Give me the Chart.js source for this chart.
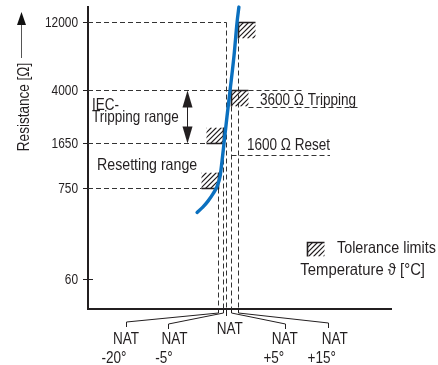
<!DOCTYPE html>
<html>
<head>
<meta charset="utf-8">
<script src="https://cdn.jsdelivr.net/npm/chart.js@4.4.0/dist/chart.umd.min.js"></script>
<style>
    html, body { margin: 0; padding: 0; background: #fff; }
</style>
</head>
<body>
<canvas id="myChart" width="438" height="365"></canvas>
<script>
// y axis is schematic: resistance ticks and the level (0-100) each one sits at
const resistanceTicks = [60, 750, 1650, 4000, 12000];
const tickLevels = [9.9, 40.1, 55.0, 72.5, 95.0];

// NAT marks (nominal response temperature) on the schematic x axis (0-100)
const natOffsets = ['-20°', '-5°', '', '+5°', '+15°'];
const natPositions = [42.8, 44.7, 45.7, 47.3, 49.5];
// resistance at which each NAT dashed line starts
const natResistance = [750, 1650, 12000, 4000, 12000];

// tolerance limit corners: NAT mark index and resistance
const toleranceNat = [0, 1, 3, 4];
const toleranceResistance = [750, 1650, 4000, 12000];

// PTC characteristic curve
const curveTemp = [36.0, 37.9, 39.6, 41.3, 42.6, 43.6, 44.2, 44.9, 45.9, 46.9, 48.2, 49.2, 49.8];
const curveResistance = [380, 440, 520, 640, 770, 920, 1180, 1650, 2600, 4000, 7000, 12000, 15300];

const FONT = "'Liberation Sans', Arial, sans-serif";
const INK = '#231f20';

function toLevel(r) {
    const lr = Math.log10(r);
    const logs = resistanceTicks.map(v => Math.log10(v));
    let i = 0;
    while (i < logs.length - 2 && lr > logs[i + 1]) i++;
    const f = (lr - logs[i]) / (logs[i + 1] - logs[i]);
    return tickLevels[i] + f * (tickLevels[i + 1] - tickLevels[i]);
}

function line(ctx, pts) {
    ctx.beginPath();
    ctx.moveTo(pts[0][0], pts[0][1]);
    for (let k = 1; k < pts.length; k++) ctx.lineTo(pts[k][0], pts[k][1]);
    ctx.stroke();
}

// condensed text: Liberation Sans squeezed like a narrow face
function text(ctx, str, x, y, size, align, baseline, rot, sx) {
    ctx.save();
    ctx.font = size + 'px ' + FONT;
    ctx.textAlign = align || 'left';
    ctx.textBaseline = baseline || 'alphabetic';
    ctx.translate(x, y);
    if (rot) ctx.rotate(rot);
    ctx.scale(sx || 0.82, 1);
    ctx.fillText(str, 0, 0);
    ctx.restore();
}

// hatched tolerance box, corner = 'topleft' or 'bottomright' solid edges
function hatchBox(ctx, x0, y0, w, h, corner) {
    ctx.save();
    ctx.setLineDash([]);
    ctx.beginPath();
    ctx.rect(x0, y0, w, h);
    ctx.clip();
    ctx.lineWidth = 1.1;
    ctx.beginPath();
    for (let s = -h; s < w + h; s += 5) {
        ctx.moveTo(x0 + s, y0 + h);
        ctx.lineTo(x0 + s + h, y0);
    }
    ctx.stroke();
    ctx.restore();
    ctx.save();
    ctx.setLineDash([]);
    ctx.lineWidth = 1.6;
    if (corner === 'topleft') {
        line(ctx, [[x0, y0 + h], [x0, y0], [x0 + w, y0]]);
    } else {
        line(ctx, [[x0, y0 + h], [x0 + w, y0 + h], [x0 + w, y0]]);
    }
    ctx.restore();
}

function arrowHead(ctx, x, tipY, baseY, half) {
    ctx.beginPath();
    ctx.moveTo(x, tipY);
    ctx.lineTo(x - half, baseY);
    ctx.lineTo(x + half, baseY);
    ctx.closePath();
    ctx.fill();
}

const annotations = {
    id: 'annotations',
    beforeDatasetsDraw(chart) {
        const {ctx, chartArea: area, scales: {x, y}} = chart;
        const px = i => Math.round(x.getPixelForValue(natPositions[i])) + 0.5;
        const py = r => Math.round(y.getPixelForValue(toLevel(r))) + 0.5;
        const bw = 17, bh = 16;
        const left = area.left, bottom = area.bottom;

        ctx.save();
        ctx.strokeStyle = INK;
        ctx.fillStyle = INK;

        // y ticks crossing the axis, with their labels
        ctx.lineWidth = 1;
        tickLevels.forEach((v, i) => {
            const ty = Math.round(y.getPixelForValue(v)) + 0.5;
            line(ctx, [[left - 5, ty], [left + 5, ty]]);
            text(ctx, String(resistanceTicks[i]), left - 10, ty, 14.5, 'right', 'middle');
        });

        // dashed guide lines
        ctx.setLineDash([5, 3]);
        ctx.strokeStyle = '#333';
        line(ctx, [[left, py(750)], [px(0) - bw, py(750)]]);
        line(ctx, [[left, py(1650)], [px(1) - bw, py(1650)]]);
        line(ctx, [[left, py(4000)], [px(3), py(4000)]]);
        line(ctx, [[px(3) + bw, py(4000)], [302, py(4000)]]);
        line(ctx, [[left, py(12000)], [px(2), py(12000)]]);
        natPositions.forEach((p, i) => {
            line(ctx, [[px(i), py(natResistance[i])], [px(i), bottom + 3]]);
        });
        // 3600 tripping and 1600 reset lines
        line(ctx, [[px(3) + bw, py(4000) + bh + 1], [359, py(4000) + bh + 1]]);
        line(ctx, [[px(3), py(1650) + 12], [330, py(1650) + 12]]);

        // tolerance boxes
        ctx.strokeStyle = INK;
        toleranceNat.forEach((n, k) => {
            const cx = px(n), cy = py(toleranceResistance[k]);
            if (toleranceResistance[k] < 3000) {
                hatchBox(ctx, cx - bw, cy - bh, bw, bh, 'bottomright');
            } else {
                hatchBox(ctx, cx, cy, bw, bh, 'topleft');
            }
        });
        hatchBox(ctx, 307.5, 242.5, 17, 14, 'topleft');

        // leader lines to NAT labels
        ctx.setLineDash([]);
        ctx.lineWidth = 1;
        const labelX = [126.5, 168.5, null, 285.5, 328.5];
        const slantY = [322, 324, null, 324, 323];
        natPositions.forEach((p, i) => {
            if (labelX[i] === null) {
                line(ctx, [[px(i), bottom], [px(i), bottom + 7]]);
            } else {
                line(ctx, [[px(i), bottom], [px(i), bottom + 4], [labelX[i], slantY[i]], [labelX[i], slantY[i] + 5]]);
            }
        });

        // double arrow for the IEC tripping range
        const ax = 187.5;
        line(ctx, [[ax, py(4000) + 10], [ax, py(1650) - 10]]);
        arrowHead(ctx, ax, py(4000), py(4000) + 17, 5);
        arrowHead(ctx, ax, py(1650), py(1650) - 17, 5);

        // y axis title arrow
        ctx.strokeStyle = '#555';
        line(ctx, [[21.5, 58], [21.5, 24]]);
        ctx.fillStyle = '#111';
        arrowHead(ctx, 21.5, 12, 25, 4.5);

        // texts
        ctx.fillStyle = INK;
        const fs = 16.5;
        text(ctx, 'IEC-', 92, 110, fs);
        text(ctx, 'Tripping range', 92, 122, fs);
        text(ctx, 'Resetting range', 97, 170, fs, 'left', 'alphabetic', 0, 0.86);
        text(ctx, '3600 Ω Tripping', 260, 105, fs);
        text(ctx, '1600 Ω Reset', 247, 150, fs);
        text(ctx, 'Tolerance limits', 337, 253, fs, 'left', 'alphabetic', 0, 0.87);
        text(ctx, 'Temperature ϑ [°C]', 425, 275, fs, 'right', 'alphabetic', 0, 0.9);

        const natX = [126, 174.5, 229.7, 284.7, 334.8];
        const offX = [114, 164, null, 273.8, 321.7];
        natPositions.forEach((p, i) => {
            if (natOffsets[i] === '') {
                text(ctx, 'NAT', natX[i], 334, fs, 'center');
            } else {
                text(ctx, 'NAT', natX[i], 344, fs, 'center');
                text(ctx, natOffsets[i], offX[i], 362.5, fs, 'center');
            }
        });

        text(ctx, 'Resistance [Ω]', 28.5, 107, fs, 'center', 'alphabetic', -Math.PI / 2);

        ctx.restore();
    }
};

const ctx = document.getElementById('myChart').getContext('2d');
new Chart(ctx, {
    type: 'line',
    data: {
        datasets: [{
            data: curveTemp.map((t, i) => ({x: t, y: toLevel(curveResistance[i])})),
            borderColor: '#0b70bf',
            borderWidth: 3.4,
            borderCapStyle: 'round',
            pointRadius: 0,
            cubicInterpolationMode: 'monotone',
            fill: false,
            clip: false
        }]
    },
    options: {
        responsive: false,
        animation: false,
        layout: {padding: {top: 7, right: 47, bottom: 0, left: 0}},
        plugins: {
            legend: {display: false},
            tooltip: {enabled: false}
        },
        scales: {
            x: {
                type: 'linear',
                min: 0,
                max: 100,
                ticks: {display: false},
                grid: {display: false},
                border: {display: true, color: INK, width: 2},
                afterFit: s => { s.height = 56; }
            },
            y: {
                type: 'linear',
                min: 0,
                max: 100,
                afterBuildTicks: s => { s.ticks = tickLevels.map(v => ({value: v})); },
                ticks: {display: false},
                grid: {display: false},
                border: {display: true, color: INK, width: 2},
                afterFit: s => { s.width = 88; }
            }
        }
    },
    plugins: [annotations]
});
</script>
</body>
</html>
